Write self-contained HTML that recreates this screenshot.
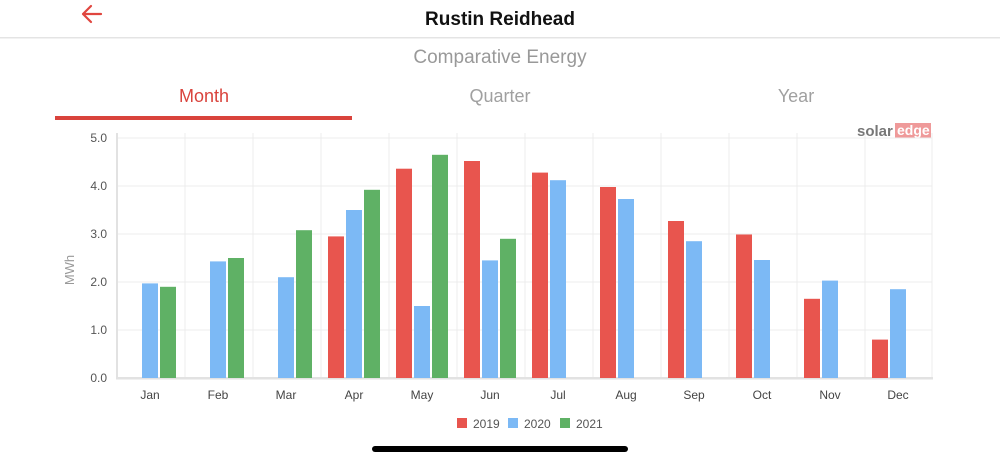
<!DOCTYPE html>
<html><head><meta charset="utf-8"><style>
html,body{margin:0;padding:0;background:#fff;width:1000px;height:462px;overflow:hidden}
svg{display:block;font-family:"Liberation Sans",sans-serif}
</style></head><body>
<svg width="1000" height="462" viewBox="0 0 1000 462" xmlns="http://www.w3.org/2000/svg">
<!-- header -->
<g stroke="#e0463f" stroke-width="2.2" fill="none" stroke-linecap="round" stroke-linejoin="round">
<path d="M101 14 H83 M91 6 L83 14 L91 22"/>
</g>
<text x="500" y="25" text-anchor="middle" font-size="19" font-weight="bold" fill="#111">Rustin Reidhead</text>
<rect x="0" y="37" width="1000" height="1.5" fill="#e4e4e4"/>
<text x="500" y="63" text-anchor="middle" font-size="19" fill="#999">Comparative Energy</text>
<text x="204" y="102" text-anchor="middle" font-size="18" fill="#d9433c">Month</text>
<text x="500" y="102" text-anchor="middle" font-size="18" fill="#a0a0a0">Quarter</text>
<text x="796" y="102" text-anchor="middle" font-size="18" fill="#a0a0a0">Year</text>
<rect x="55" y="116" width="297" height="4" fill="#d9433c"/>
<!-- logo -->
<text x="857" y="136" font-size="15" font-weight="bold" fill="#777">solar</text>
<rect x="895" y="123" width="36" height="15" fill="#ef9a9a"/>
<text x="897" y="135" font-size="14" font-weight="bold" fill="#fff">edge</text>
<!-- grid -->
<g stroke="#ececec" stroke-width="1">
<line x1="117" y1="138" x2="932" y2="138"/><line x1="117" y1="186" x2="932" y2="186"/>
<line x1="117" y1="234" x2="932" y2="234"/><line x1="117" y1="282" x2="932" y2="282"/>
<line x1="117" y1="330" x2="932" y2="330"/>
<line x1="185" y1="133" x2="185" y2="378"/><line x1="253" y1="133" x2="253" y2="378"/>
<line x1="321" y1="133" x2="321" y2="378"/><line x1="389" y1="133" x2="389" y2="378"/>
<line x1="457" y1="133" x2="457" y2="378"/><line x1="525" y1="133" x2="525" y2="378"/>
<line x1="593" y1="133" x2="593" y2="378"/><line x1="661" y1="133" x2="661" y2="378"/>
<line x1="729" y1="133" x2="729" y2="378"/><line x1="797" y1="133" x2="797" y2="378"/>
<line x1="865" y1="133" x2="865" y2="378"/><line x1="932" y1="133" x2="932" y2="378"/>
</g>
<rect x="116" y="133" width="2" height="246" fill="#e2e2e2"/>
<rect x="116" y="377" width="817" height="2.5" fill="#e2e2e2"/>
<!-- y labels -->
<g font-size="12" fill="#555" text-anchor="end">
<text x="107" y="142">5.0</text><text x="107" y="190">4.0</text><text x="107" y="238">3.0</text>
<text x="107" y="286">2.0</text><text x="107" y="334">1.0</text><text x="107" y="382">0.0</text>
</g>
<text transform="translate(74,270) rotate(-90)" text-anchor="middle" font-size="13" fill="#999">MWh</text>
<!-- bars -->
<g fill="#7cb9f5">
<rect x="142" y="283.4" width="16" height="94.6"/>
<rect x="210" y="261.4" width="16" height="116.6"/>
<rect x="278" y="277.2" width="16" height="100.8"/>
<rect x="346" y="210" width="16" height="168"/>
<rect x="414" y="306" width="16" height="72"/>
<rect x="482" y="260.4" width="16" height="117.6"/>
<rect x="550" y="180.2" width="16" height="197.8"/>
<rect x="618" y="199" width="16" height="179"/>
<rect x="686" y="241.2" width="16" height="136.8"/>
<rect x="754" y="260" width="16" height="118"/>
<rect x="822" y="280.6" width="16" height="97.4"/>
<rect x="890" y="289.2" width="16" height="88.8"/>
</g>
<g fill="#5fb165">
<rect x="160" y="286.8" width="16" height="91.2"/>
<rect x="228" y="258" width="16" height="120"/>
<rect x="296" y="230.2" width="16" height="147.8"/>
<rect x="364" y="189.8" width="16" height="188.2"/>
<rect x="432" y="154.8" width="16" height="223.2"/>
<rect x="500" y="238.8" width="16" height="139.2"/>
</g>
<g fill="#e8554e">
<rect x="328" y="236.4" width="16" height="141.6"/>
<rect x="396" y="168.7" width="16" height="209.3"/>
<rect x="464" y="161" width="16" height="217"/>
<rect x="532" y="172.6" width="16" height="205.4"/>
<rect x="600" y="187" width="16" height="191"/>
<rect x="668" y="221" width="16" height="157"/>
<rect x="736" y="234.5" width="16" height="143.5"/>
<rect x="804" y="298.8" width="16" height="79.2"/>
<rect x="872" y="339.6" width="16" height="38.4"/>
</g>
<!-- x labels -->
<g font-size="12" fill="#444" text-anchor="middle">
<text x="150" y="399">Jan</text><text x="218" y="399">Feb</text><text x="286" y="399">Mar</text>
<text x="354" y="399">Apr</text><text x="422" y="399">May</text><text x="490" y="399">Jun</text>
<text x="558" y="399">Jul</text><text x="626" y="399">Aug</text><text x="694" y="399">Sep</text>
<text x="762" y="399">Oct</text><text x="830" y="399">Nov</text><text x="898" y="399">Dec</text>
</g>
<!-- legend -->
<rect x="457" y="418" width="10" height="10" fill="#e8554e"/>
<text x="473" y="428" font-size="12" fill="#555">2019</text>
<rect x="508" y="418" width="10" height="10" fill="#7cb9f5"/>
<text x="524" y="428" font-size="12" fill="#555">2020</text>
<rect x="560" y="418" width="10" height="10" fill="#5fb165"/>
<text x="576" y="428" font-size="12" fill="#555">2021</text>
<!-- home bar -->
<rect x="372" y="446" width="256" height="6" rx="3" fill="#000"/>
</svg>
</body></html>
